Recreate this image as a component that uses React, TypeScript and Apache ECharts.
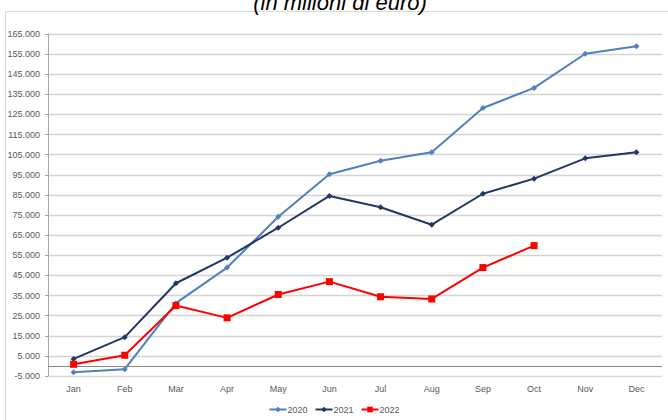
import React, { useEffect, useRef } from "react";
import * as echarts from "echarts";

const categories = ["Jan", "Feb", "Mar", "Apr", "May", "Jun", "Jul", "Aug", "Sep", "Oct", "Nov", "Dec"];
const series2020 = [-3100, -1600, 31200, 48900, 74200, 95300, 102000, 106200, 128200, 138200, 155200, 158900];
const series2021 = [3500, 14300, 41100, 53800, 68700, 84500, 78900, 70200, 85600, 93100, 103200, 106200];
const series2022 = [800, 5300, 30000, 23900, 35500, 41900, 34400, 33300, 48900, 59800];
const seriesNames = ["2020", "2021", "2022"];
const titleText = "(in milioni di euro)";

const fmt = (v: number) => {
  const s = v < 0 ? "-" : "";
  return s + Math.round(Math.abs(v) / 1000) + ".000";
};

export default function App() {
  const ref = useRef<HTMLDivElement>(null);
  useEffect(() => {
    if (!ref.current) return;
    const chart = echarts.init(ref.current, null, { renderer: "svg" });
    const font = "Liberation Sans";
    chart.setOption({
      animation: false,
      backgroundColor: "#ffffff",
      textStyle: { fontFamily: font },
      graphic: [
        {
          type: "rect",
          shape: { x: 5.5, y: 11.5, width: 700, height: 440 },
          style: { fill: "none", stroke: "#d9d9d9", lineWidth: 1 },
          silent: true,
        },
        {
          type: "text",
          x: 340,
          y: 13,
          style: {
            text: titleText,
            fontSize: 22,
            fontStyle: "italic",
            fontFamily: font,
            fill: "#000000",
            align: "center",
            verticalAlign: "bottom",
          },
        },
      ],
      grid: { left: 48, right: 6, top: 34, bottom: 44, containLabel: false },
      legend: {
        bottom: 1,
        left: "center",
        itemWidth: 17,
        itemHeight: 7,
        itemGap: 7,
        textStyle: { fontSize: 9, color: "#595959", fontFamily: font, padding: [0, 0, 0, -4] },
        data: seriesNames,
      },
      xAxis: {
        type: "category",
        data: categories,
        boundaryGap: true,
        axisLine: { show: true, onZero: false, lineStyle: { color: "#d9d9d9", width: 1 } },
        axisTick: { show: false },
        axisLabel: { fontSize: 9, color: "#595959", margin: 8, fontFamily: font },
        splitLine: { show: false },
      },
      yAxis: {
        type: "value",
        min: -5000,
        max: 165000,
        interval: 10000,
        axisLine: { show: true, lineStyle: { color: "#a6a6a6", width: 1 } },
        axisTick: { show: true, length: 3, lineStyle: { color: "#a6a6a6" } },
        axisLabel: { fontSize: 9, color: "#595959", margin: 8, formatter: fmt, fontFamily: font },
        splitLine: { show: true, lineStyle: { color: "#d4d4d4", width: 1.3 } },
      },
      series: [
        {
          name: seriesNames[0],
          type: "line",
          data: series2020,
          symbol: "diamond",
          symbolSize: 6,
          lineStyle: { color: "#4F81BD", width: 2 },
          itemStyle: { color: "#4F81BD" },
          z: 3,
          markLine: {
            silent: true,
            symbol: "none",
            label: { show: false },
            lineStyle: { color: "#868686", type: "solid", width: 1 },
            data: [{ yAxis: 0 }],
          },
        },
        {
          name: seriesNames[1],
          type: "line",
          data: series2021,
          symbol: "diamond",
          symbolSize: 6,
          lineStyle: { color: "#1F3864", width: 2 },
          itemStyle: { color: "#1F3864" },
          z: 4,
        },
        {
          name: seriesNames[2],
          type: "line",
          data: series2022,
          symbol: "rect",
          symbolSize: 7,
          lineStyle: { color: "#FF0000", width: 2 },
          itemStyle: { color: "#FF0000" },
          z: 5,
        },
      ],
    });
    return () => chart.dispose();
  }, []);
  return (
    <div
      ref={ref}
      style={{ position: "absolute", left: 0, top: 0, width: 668, height: 420 }}
    />
  );
}
